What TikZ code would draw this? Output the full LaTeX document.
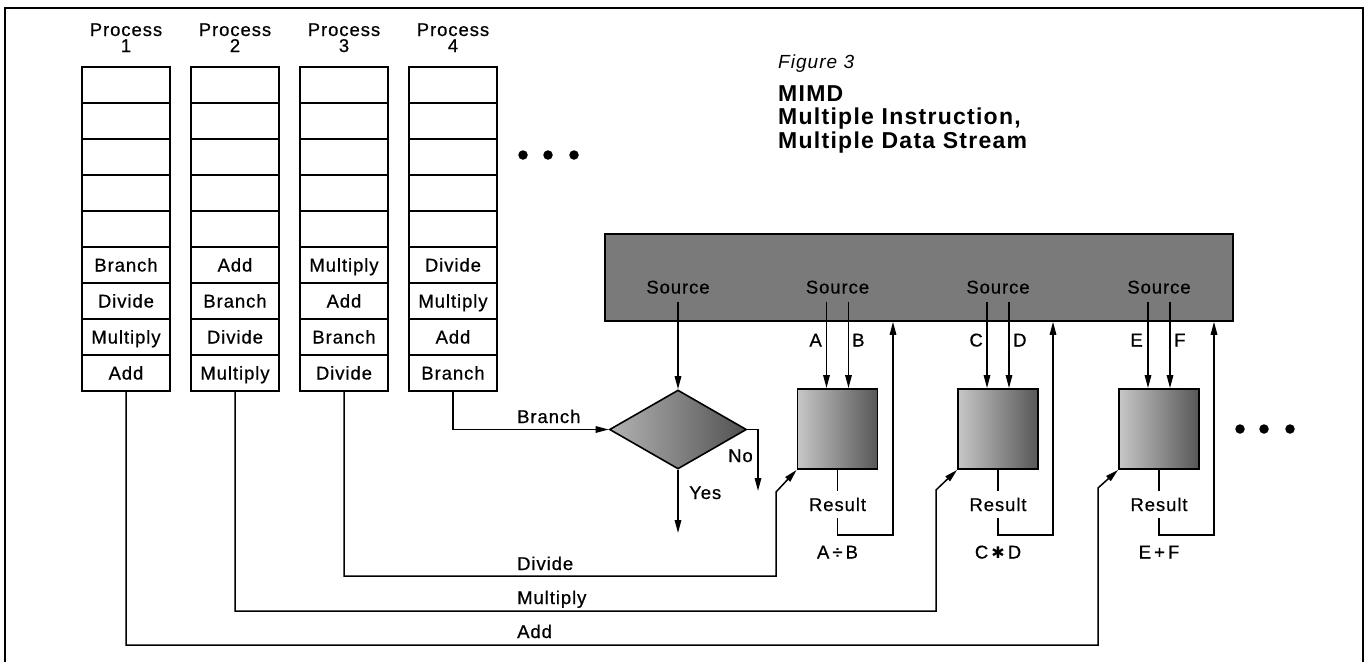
\documentclass[tikz,border=0pt]{standalone}
\usepackage{fontspec}
\setmainfont{Liberation Sans}
\newfontfamily\labfont{Liberation Sans}[LetterSpace=5,FakeBold=0.6]
\newfontfamily\ttlfont{Liberation Sans}[LetterSpace=5.5]
\newfontfamily\symfont{DejaVu Sans}
\usetikzlibrary{shapes.geometric,arrows.meta}
\begin{document}
\begin{tikzpicture}[x=1pt,y=-1pt,
  every node/.style={inner sep=0pt, font=\labfont\fontsize{18.5}{18.5}\selectfont},
  cell/.style={draw, line width=1.8pt, minimum width=88pt, minimum height=36pt, text height=13pt, text depth=0pt},
  lbl/.style={anchor=base west},
  captext/.style={text height=13pt, text depth=0pt},
  src/.style={captext, inner ysep=8pt},
  memory/.style={draw, line width=1.6pt, fill=black!52, minimum width=628pt, minimum height=87pt},
  pe/.style={draw, line width=1.8pt, left color=black!22, right color=black!66, minimum width=80pt, minimum height=80pt},
  decision/.style={diamond, draw, line width=1.6pt, left color=black!30, right color=black!68, minimum width=137pt, minimum height=79pt},
  res/.style={captext, inner ysep=7pt},
  conn/.style={line width=1.5pt},
  arr/.style={conn, -{Triangle[length=13pt,width=6.5pt]}},
  dot/.style={circle, fill, minimum size=9.5pt}
]
\useasboundingbox (0,0) rectangle (1367,662);
% frame
\draw[line width=2pt] (5,662) -- (5,8) -- (1363,8) -- (1363,662);

% process columns
\foreach \c/\x/\la/\lb/\lc/\ld in {1/126/Branch/Divide/Multiply/Add, 2/235/Add/Branch/Divide/Multiply, 3/344/Multiply/Add/Branch/Divide, 4/453/Divide/Multiply/Add/Branch}{
  \node[anchor=base] (h\c) at (\x,36) {Process};
  \node[anchor=base] (n\c) at (\x,52) {\c};
  \foreach \r in {1,...,5} \node[cell] (c\c-\r) at (\x,{85+36*(\r-1)}) {};
  \node[cell] (c\c-6) at (\x,265) {\la};
  \node[cell] (c\c-7) at (\x,301) {\lb};
  \node[cell] (c\c-8) at (\x,337) {\lc};
  \node[cell] (c\c-9) at (\x,373) {\ld};
}
\node[dot] (d1) at (523,155) {};
\node[dot] (d2) at (548,155) {};
\node[dot] (d3) at (574,155) {};

% title
\node[anchor=base west, font=\ttlfont\itshape\fontsize{19}{19}\selectfont] (fig) at (778,68) {Figure 3};
\node[anchor=north west, align=left, font=\ttlfont\bfseries\fontsize{23}{23.5}\selectfont] (title) at (778,85) {MIMD\\Multiple Instruction,\\Multiple Data Stream};

% memory bar
\node[memory] (bar) at (919,277.5) {};
\node[src] (s1) at (678,287) {Source};
\node[src] (s2) at (837.5,287) {Source};
\node[src] (s3) at (998,287) {Source};
\node[src] (s4) at (1159,287) {Source};

% decision and processing elements
\node[decision] (dia) at (678,429.5) {};
\node[pe] (p1) at (837.5,429) {};
\node[pe] (p2) at (998,429) {};
\node[pe] (p3) at (1159,429) {};

\draw[arr] (s1.south) -- (dia.north);
\foreach \s/\p in {s2/p1,s3/p2,s4/p3}{
  \draw[arr] ([xshift=-11pt]\s.south) -- ([xshift=-11pt]\p.north);
  \draw[arr] ([xshift=11pt]\s.south) -- ([xshift=11pt]\p.north);
}
\node[captext,anchor=east] (la) at (822,340) {A};
\node[captext,anchor=west] (lb) at (852,340) {B};
\node[captext,anchor=east] (lc) at (983,340) {C};
\node[captext,anchor=west] (ld) at (1013,340) {D};
\node[captext,anchor=east] (le) at (1143,340) {E};
\node[captext,anchor=west] (lf) at (1174,340) {F};

% results
\node[res] (r1) at (837.5,504.5) {Result};
\node[res] (r2) at (998,504.5) {Result};
\node[res] (r3) at (1159,504.5) {Result};
\coordinate (q1) at (893,535);
\coordinate (q2) at (1053,535);
\coordinate (q3) at (1214,535);
\draw[conn] (p1.south) -- (r1.north);
\draw[conn] (p2.south) -- (r2.north);
\draw[conn] (p3.south) -- (r3.north);
\draw[arr] (r1.south) |- (q1) -- (q1 |- bar.south);
\draw[arr] (r2.south) |- (q2) -- (q2 |- bar.south);
\draw[arr] (r3.south) |- (q3) -- (q3 |- bar.south);
\node[captext] (e1) at (837.5,552) {A\,÷\,B};
\node[captext] (e2) at (998,552) {C\,{\symfont\fontsize{16}{16}\selectfont ✱}\,D};
\node[captext] (e3) at (1159,552) {E\,+\,F};

\node[dot] (d4) at (1240,429) {};
\node[dot] (d5) at (1264,429) {};
\node[dot] (d6) at (1290,429) {};

% branch
\draw[arr] (c4-9.south) |- (dia.west);
\node[lbl] (lbr) at (517,423) {Branch};
\coordinate (noend) at (758,491);
\draw[arr] (dia.east) -| (noend);
\node[lbl] (lno) at (728,462) {No};
\coordinate (yesend) at (678,533);
\draw[arr] (dia.south) -- (yesend);
\node[lbl] (lyes) at (689,499) {Yes};

% operation dispatch
\coordinate (dv1) at (776,576); \coordinate (dv2) at (776,492);
\draw[arr] (c3-9.south) |- (dv1) -- (dv2) -- (p1.south west);
\node[lbl] (ldiv) at (517,570) {Divide};
\coordinate (mu1) at (936,611); \coordinate (mu2) at (936,490);
\draw[arr] (c2-9.south) |- (mu1) -- (mu2) -- (p2.south west);
\node[lbl] (lmul) at (517,604) {Multiply};
\coordinate (ad1) at (1098,645); \coordinate (ad2) at (1098,488);
\draw[arr] (c1-9.south) |- (ad1) -- (ad2) -- (p3.south west);
\node[lbl] (ladd) at (517,638) {Add};
\end{tikzpicture}
\end{document}
